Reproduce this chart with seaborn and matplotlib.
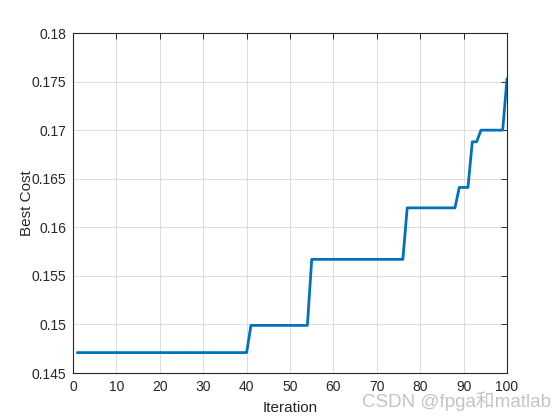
import matplotlib.pyplot as plt
import numpy as np
import pandas as pd
import seaborn as sns

# step levels of the best cost and how many iterations each one lasts
cost_levels = [0.1471, 0.1499, 0.1567, 0.1620, 0.1641, 0.1688, 0.1700, 0.1753]
level_runs = [40, 14, 22, 12, 3, 2, 6, 1]

x_ticks = [0, 10, 20, 30, 40, 50, 60, 70, 80, 90, 100]
y_ticks = [0.145, 0.15, 0.155, 0.16, 0.165, 0.17, 0.175, 0.18]
y_labels = ['0.145', '0.15', '0.155', '0.16', '0.165', '0.17', '0.175', '0.18']

best_cost = np.repeat(cost_levels, level_runs)
df = pd.DataFrame({'Iteration': np.arange(1, len(best_cost) + 1), 'Best Cost': best_cost})

sns.set_style('white')
plt.rcParams['font.family'] = ['Liberation Sans', 'Noto Sans CJK SC', 'DejaVu Sans']

fig = plt.figure(figsize=[5.6, 4.2], dpi=100, facecolor='white')
ax = fig.add_axes([0.1304, 0.1119, 0.775, 0.8095])
sns.lineplot(data=df, x='Iteration', y='Best Cost', color='#0072BD', linewidth=2, ax=ax)

ax.set_xlim(0, 100)
ax.set_ylim(0.145, 0.18)
ax.set_xticks(x_ticks)
ax.set_yticks(y_ticks)
ax.set_yticklabels(y_labels)
ax.grid(True, color='#dcdcdc', linewidth=0.7)
ax.tick_params(direction='in', length=4, width=0.7, colors='#262626', labelsize=10,
               top=True, right=True, pad=5)
for s in ax.spines.values():
    s.set_color('#262626')
    s.set_linewidth(0.8)
ax.set_xlabel('Iteration', fontsize=11, color='#262626', labelpad=5)
ax.set_ylabel('Best Cost', fontsize=11, color='#262626', labelpad=-2)

# watermark
fig.text(362 / 560, 0.022, 'CSDN @fpga和matlab', ha='left', va='bottom', fontsize=13.5,
         color='#c4c4c4')

plt.savefig('out.png', dpi=100)
